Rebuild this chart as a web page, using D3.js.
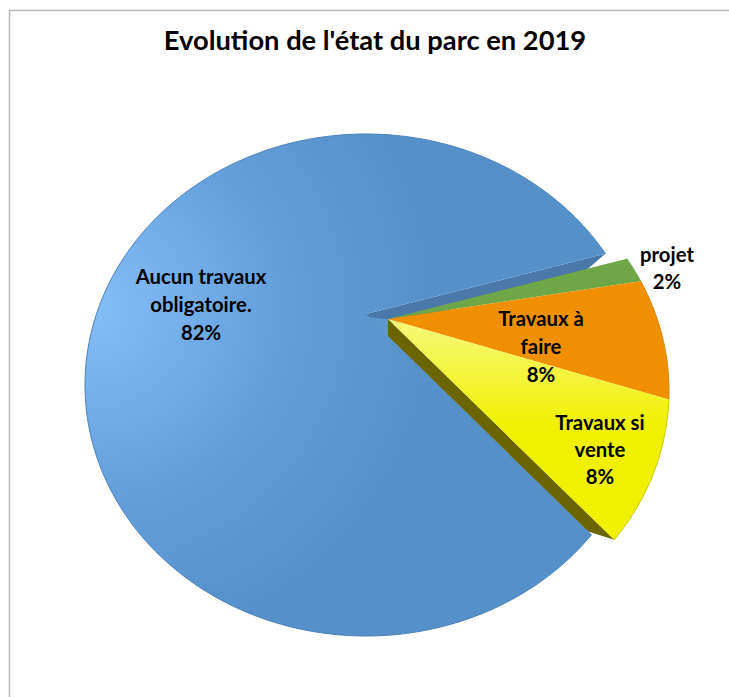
<!DOCTYPE html>
<html>
<head>
<meta charset="utf-8">
<script src="https://cdn.jsdelivr.net/npm/d3@7"></script>
<style>
  html, body { margin: 0; padding: 0; background: #fff; }
  svg { display: block; }
  text { font-family: Lato, "Open Sans", sans-serif; font-weight: 700; fill: #000; text-anchor: middle; }
</style>
</head>
<body>
<div class="chart"></div>
<script>
const title = "Evolution de l'état du parc en 2019"
const categories = ['projet', 'Travaux à faire', 'Travaux si vente', 'Aucun travaux obligatoire.']
const values = [1.8, 7.9, 8.4, 81.9]
const labelLines = [['projet'], ['Travaux à', 'faire'], ['Travaux si', 'vente'], ['Aucun travaux', 'obligatoire.']]

const width = 729, height = 697

const svg = d3.select('.chart')
    .append('svg')
    .attr('width', width)
    .attr('height', height)

//the pie plane seen in perspective: the rim is an ellipse, the apex sits above its centre
const mainFace = { cx: 366, cy: 385, rx: 281, ry: 251, apexY: 314 }
const pulledFace = { cx: 388, cy: 391, rx: 281, ry: 251, apexY: 319 }

const rimPoint = (face, angle) => {
    const a = (face.cy - face.apexY) / face.ry
    const u = Math.sin(angle), v = -Math.cos(angle)
    const w = 1 - a * v
    return [
        face.cx + face.rx * Math.sqrt(1 - a * a) * u / w,
        face.cy + face.ry * (v - a) / w
    ]
}

//lower edge of a slice: pulled a little towards the vanishing point
const lower = (face, p) => [p[0] + 0.115 * (face.cx - p[0]), p[1] + 0.115 * (face.cy + 76 - p[1])]

const pie = d3.pie().sort(null)
    .startAngle(73.6 * Math.PI / 180)
    .endAngle((73.6 + 360) * Math.PI / 180)
const arcs = pie(values)

const line = d3.line()

const rimPoints = (face, d) => {
    const steps = Math.max(4, Math.ceil((d.endAngle - d.startAngle) / 0.01))
    return d3.range(steps + 1).map(i => rimPoint(face, d.startAngle + (d.endAngle - d.startAngle) * i / steps))
}

const sectorPath = (face, d) => line([[face.cx, face.apexY], ...rimPoints(face, d)]) + 'Z'

const wallPath = (face, angle) => {
    const apex = [face.cx, face.apexY]
    const rim = rimPoint(face, angle)
    return line([apex, rim, lower(face, rim), lower(face, apex)]) + 'Z'
}

//gradients
const defs = svg.append('defs')

const blueGrad = defs.append('radialGradient')
    .attr('id', 'blue')
    .attr('gradientUnits', 'userSpaceOnUse')
    .attr('cx', 95).attr('cy', 310).attr('r', 340)
blueGrad.append('stop').attr('offset', '0%').attr('stop-color', '#85bdf6')
blueGrad.append('stop').attr('offset', '55%').attr('stop-color', '#649fdb')
blueGrad.append('stop').attr('offset', '100%').attr('stop-color', '#5590c9')

const yellowGrad = defs.append('linearGradient')
    .attr('id', 'yellow')
    .attr('gradientUnits', 'userSpaceOnUse')
    .attr('x1', 0).attr('y1', 320).attr('x2', 0).attr('y2', 430)
yellowGrad.append('stop').attr('offset', '0%').attr('stop-color', '#f7f878')
yellowGrad.append('stop').attr('offset', '100%').attr('stop-color', '#f0f000')

const fills = ['#6fa648', '#f09000', 'url(#yellow)', 'url(#blue)']
const rimColors = ['#6fa648', '#d98300', '#c9c900', '#4a80b8']

//chart frame
svg.append('path')
    .attr('d', `M9.5,${height}V10.5H${width}`)
    .attr('fill', 'none')
    .attr('stroke', '#b8b8b8')
    .attr('stroke-width', 1.5)

svg.append('text')
    .attr('x', 375)
    .attr('y', 50)
    .style('font-size', '27.3px')
    .text(title)

//big slice stays in place, its wall shows in the notch
const big = arcs[3]
svg.append('path')
    .attr('d', wallPath(mainFace, big.endAngle))
    .attr('fill', '#4a78a8')

svg.append('path')
    .attr('d', sectorPath(mainFace, big))
    .attr('fill', fills[3])

svg.append('path')
    .attr('d', line(rimPoints(mainFace, big)))
    .attr('fill', 'none')
    .attr('stroke', rimColors[3])
    .attr('stroke-width', 1)

//closes the tip of the notch, left of the pulled out slices
const pulledApex = [pulledFace.cx, pulledFace.apexY]
svg.append('path')
    .attr('d', line([[mainFace.cx, mainFace.apexY + 3], pulledApex, lower(pulledFace, pulledApex)]) + 'Z')
    .attr('fill', '#5f97cf')

//the three other slices are pulled out to the right
svg.append('path')
    .attr('d', wallPath(pulledFace, arcs[2].endAngle))
    .attr('fill', '#6b6500')

svg.selectAll('path.slice')
    .data(arcs.slice(0, 3))
    .enter()
    .append('path')
        .attr('class', 'slice')
        .attr('d', d => sectorPath(pulledFace, d))
        .attr('fill', (d, i) => fills[i])

svg.selectAll('path.rim')
    .data(arcs.slice(0, 3))
    .enter()
    .append('path')
        .attr('class', 'rim')
        .attr('d', d => line(rimPoints(pulledFace, d)))
        .attr('fill', 'none')
        .attr('stroke', (d, i) => rimColors[i])
        .attr('stroke-width', 1)

//data labels
const labelX = [667, 541, 600, 201]
const labelY = [262, 326, 430, 284]
const lineGap = [27, 28, 27, 28]

values.forEach((v, i) => {
    const rows = [...labelLines[i], `${Math.round(v)}%`]
    svg.append('text')
        .attr('class', 'label')
        .attr('aria-label', categories[i])
        .selectAll('tspan')
        .data(rows)
        .enter()
        .append('tspan')
            .attr('x', labelX[i])
            .attr('y', (d, k) => labelY[i] + k * lineGap[i])
            .style('font-size', '20.3px')
            .text(d => d)
})
</script>
</body>
</html>
